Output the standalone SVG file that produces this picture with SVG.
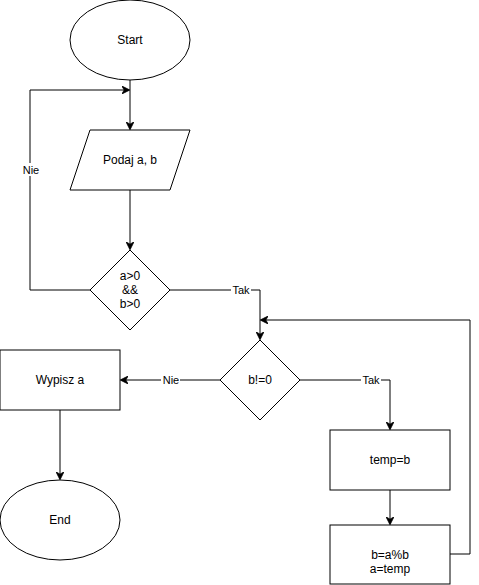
<svg xmlns="http://www.w3.org/2000/svg" width="479" height="585" viewBox="0 0 479 585">
  <style>
    .shape { fill: #ffffff; stroke: #000000; stroke-width: 1; }
    .edge { fill: none; stroke: #000000; stroke-width: 1; }
    .lbl { font-family: "Liberation Sans", Arial, sans-serif; font-size: 12px; fill: #000000; text-anchor: middle; dominant-baseline: central; }
    .elbl { font-family: "Liberation Sans", Arial, sans-serif; font-size: 11px; fill: #000000; text-anchor: middle; dominant-baseline: central; }
    .lblbg { fill: #ffffff; }
  </style>
  <defs>
    <marker id="arrow" viewBox="0 0 10 10" refX="9" refY="5" markerWidth="8" markerHeight="8" markerUnits="userSpaceOnUse" orient="auto">
      <path d="M0,0 L10,5 L0,10 L3,5 z" fill="#000000" stroke="#000000" stroke-width="1"/>
    </marker>
  </defs>
  <rect width="479" height="585" fill="#ffffff"/>

  <!-- connectors -->
  <g id="connectors">
    <path class="edge" d="M130,80 L130,129" marker-end="url(#arrow)"/>
    <path class="edge" d="M130,190 L130,249" marker-end="url(#arrow)"/>
    <path class="edge" d="M90,290 L30,290 L30,90 L129,90" marker-end="url(#arrow)"/>
    <path class="edge" d="M170,290 L260,290 L260,339" marker-end="url(#arrow)"/>
    <path class="edge" d="M220,380 L121,380" marker-end="url(#arrow)"/>
    <path class="edge" d="M300,380 L390,380 L390,429" marker-end="url(#arrow)"/>
    <path class="edge" d="M60,410 L60,479" marker-end="url(#arrow)"/>
    <path class="edge" d="M390,490 L390,524" marker-end="url(#arrow)"/>
    <path class="edge" d="M450,554 L470,554 L470,320 L261,320" marker-end="url(#arrow)"/>

    <!-- edge labels -->
    <rect class="lblbg" x="21" y="163" width="19" height="13"/>
    <text class="elbl" x="31" y="170">Nie</text>
    <rect class="lblbg" x="231" y="284" width="20" height="13"/>
    <text class="elbl" x="241" y="290">Tak</text>
    <rect class="lblbg" x="161" y="374" width="19" height="13"/>
    <text class="elbl" x="171" y="380">Nie</text>
    <rect class="lblbg" x="361" y="374" width="20" height="13"/>
    <text class="elbl" x="371" y="380">Tak</text>
  </g>

  <g id="start">
    <ellipse class="shape" cx="130" cy="40" rx="60" ry="40"/>
    <text class="lbl" x="130" y="40">Start</text>
  </g>

  <g id="input">
    <polygon class="shape" points="90,130 190,130 170,190 70,190"/>
    <text class="lbl" x="130" y="160">Podaj a, b</text>
  </g>

  <g id="check-positive">
    <polygon class="shape" points="130,250 170,290 130,330 90,290"/>
    <text class="lbl" x="130" y="276">a&gt;0</text>
    <text class="lbl" x="130" y="290">&amp;&amp;</text>
    <text class="lbl" x="130" y="304">b&gt;0</text>
  </g>

  <g id="check-b">
    <polygon class="shape" points="260,340 300,380 260,420 220,380"/>
    <text class="lbl" x="260" y="380">b!=0</text>
  </g>

  <g id="print">
    <rect class="shape" x="0" y="350" width="120" height="60"/>
    <text class="lbl" x="60" y="380">Wypisz a</text>
  </g>

  <g id="end">
    <ellipse class="shape" cx="60" cy="520" rx="60" ry="40"/>
    <text class="lbl" x="60" y="520">End</text>
  </g>

  <g id="temp">
    <rect class="shape" x="330" y="430" width="120" height="60"/>
    <text class="lbl" x="390" y="460">temp=b</text>
  </g>

  <g id="swap">
    <rect class="shape" x="330" y="525" width="120" height="59"/>
    <text class="lbl" x="390" y="555">b=a%b</text>
    <text class="lbl" x="390" y="569">a=temp</text>
  </g>
</svg>
